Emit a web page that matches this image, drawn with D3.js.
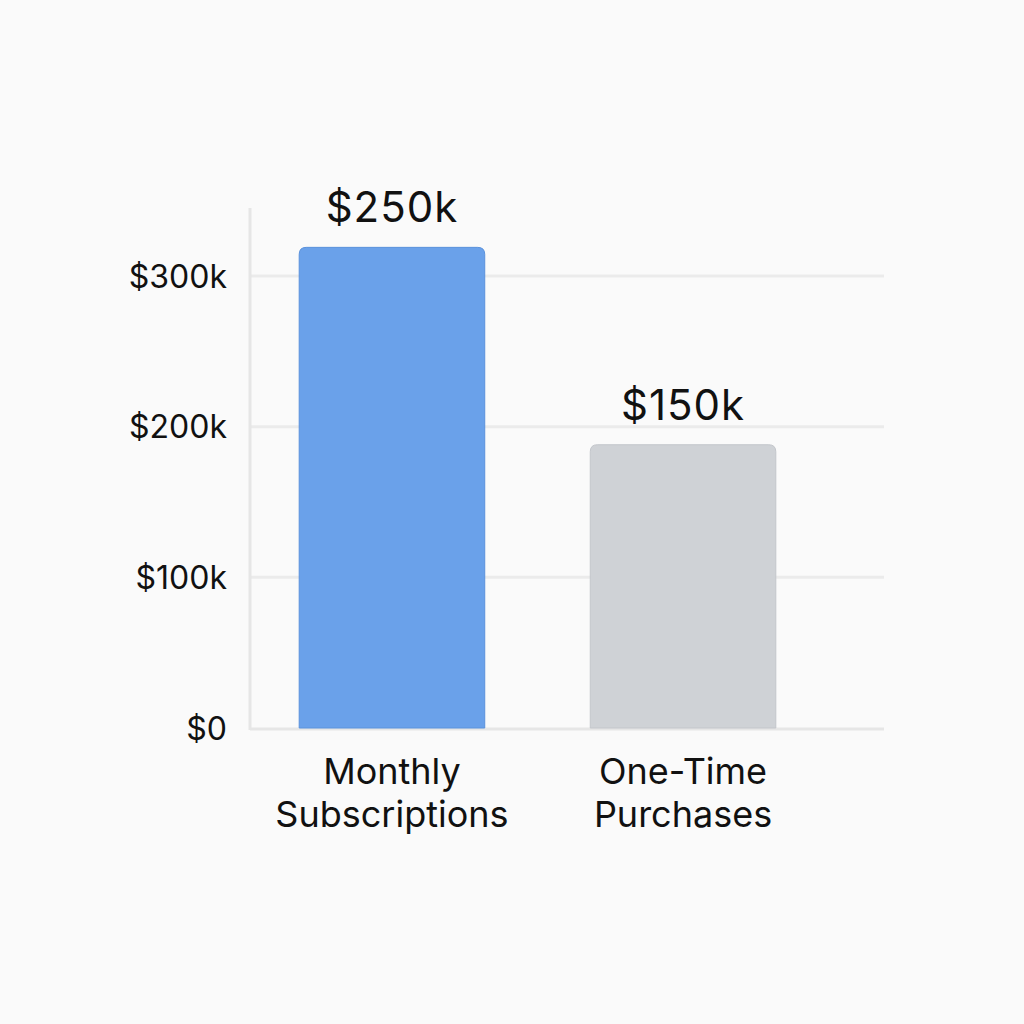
<!DOCTYPE html>
<html>
<head>
<meta charset="utf-8">
<script src="https://cdn.jsdelivr.net/npm/d3@7"></script>
<style>
  html, body { margin: 0; padding: 0; background: #fafafa; }
  svg text { font-family: Inter, Roboto, "Noto Sans", sans-serif; fill: #111; }
</style>
</head>
<body>
<div id="chart"></div>
<script>
// data
const categories = [["Monthly", "Subscriptions"], ["One-Time", "Purchases"]];
const barValues = [319, 188];          // bar heights in $k as drawn
const valueLabels = ["$250k", "$150k"]; // labels printed above the bars
const barColors = ["#6aa1ea", "#cfd2d6"];
const barStrokes = ["#5b92dc", "#c3c6cb"];
const tickValues = [0, 100, 200, 300];
const tickLabels = ["$0", "$100k", "$200k", "$300k"];

const width = 1024, height = 1024;
const svg = d3.select("#chart").append("svg")
    .attr("width", width).attr("height", height)
    .attr("viewBox", [0, 0, width, height]);

const plot = {left: 250, right: 884, top: 208, bottom: 728};

const y = d3.scaleLinear().domain([0, 300]).range([plot.bottom, 276]);
const x = d3.scaleBand()
    .domain(d3.range(categories.length))
    .range([plot.left, 825])
    .paddingInner(0.3625)
    .paddingOuter(0.169);

// gridlines
svg.append("g")
    .selectAll("line")
    .data(tickValues.filter(d => d > 0))
    .join("line")
    .attr("x1", plot.left).attr("x2", plot.right)
    .attr("y1", d => y(d)).attr("y2", d => y(d))
    .attr("stroke", "#ebebeb")
    .attr("stroke-width", 3);

// left axis line + baseline
svg.append("line")
    .attr("x1", plot.left).attr("x2", plot.left)
    .attr("y1", plot.top).attr("y2", plot.bottom + 2)
    .attr("stroke", "#e6e6e6").attr("stroke-width", 3);
svg.append("line")
    .attr("x1", plot.left).attr("x2", plot.right)
    .attr("y1", plot.bottom + 1).attr("y2", plot.bottom + 1)
    .attr("stroke", "#e6e6e6").attr("stroke-width", 3);

// tick labels
svg.append("g")
    .selectAll("text")
    .data(tickValues)
    .join("text")
    .attr("x", 227)
    .attr("y", d => y(d))
    .attr("dy", "0.36em")
    .attr("text-anchor", "end")
    .attr("font-size", 32)
    .text((d, i) => tickLabels[i]);

// bars with rounded top corners
const r = 7;
const topRounded = (x0, y0, w, h) => `M${x0},${y0 + h}V${y0 + r}Q${x0},${y0} ${x0 + r},${y0}` +
    `H${x0 + w - r}Q${x0 + w},${y0} ${x0 + w},${y0 + r}V${y0 + h}Z`;

svg.append("g")
    .selectAll("path")
    .data(barValues)
    .join("path")
    .attr("d", (d, i) => topRounded(x(i), y(d), x.bandwidth(), y(0) - y(d)))
    .attr("fill", (d, i) => barColors[i])
    .attr("stroke", (d, i) => barStrokes[i])
    .attr("stroke-width", 1);

// value labels
svg.append("g")
    .selectAll("text")
    .data(barValues)
    .join("text")
    .attr("x", (d, i) => x(i) + x.bandwidth() / 2)
    .attr("y", d => y(d) - 25)
    .attr("text-anchor", "middle")
    .attr("font-size", 42)
    .attr("letter-spacing", 1)
    .text((d, i) => valueLabels[i]);

// category labels
const cat = svg.append("g")
    .selectAll("text")
    .data(categories)
    .join("text")
    .attr("text-anchor", "middle")
    .attr("font-size", 36)
    .attr("x", (d, i) => x(i) + x.bandwidth() / 2)
    .attr("y", 784);
cat.selectAll("tspan")
    .data(d => d)
    .join("tspan")
    .attr("x", function() { return this.parentNode.getAttribute("x"); })
    .attr("dy", (d, j) => j === 0 ? 0 : 43)
    .text(d => d);
</script>
</body>
</html>
